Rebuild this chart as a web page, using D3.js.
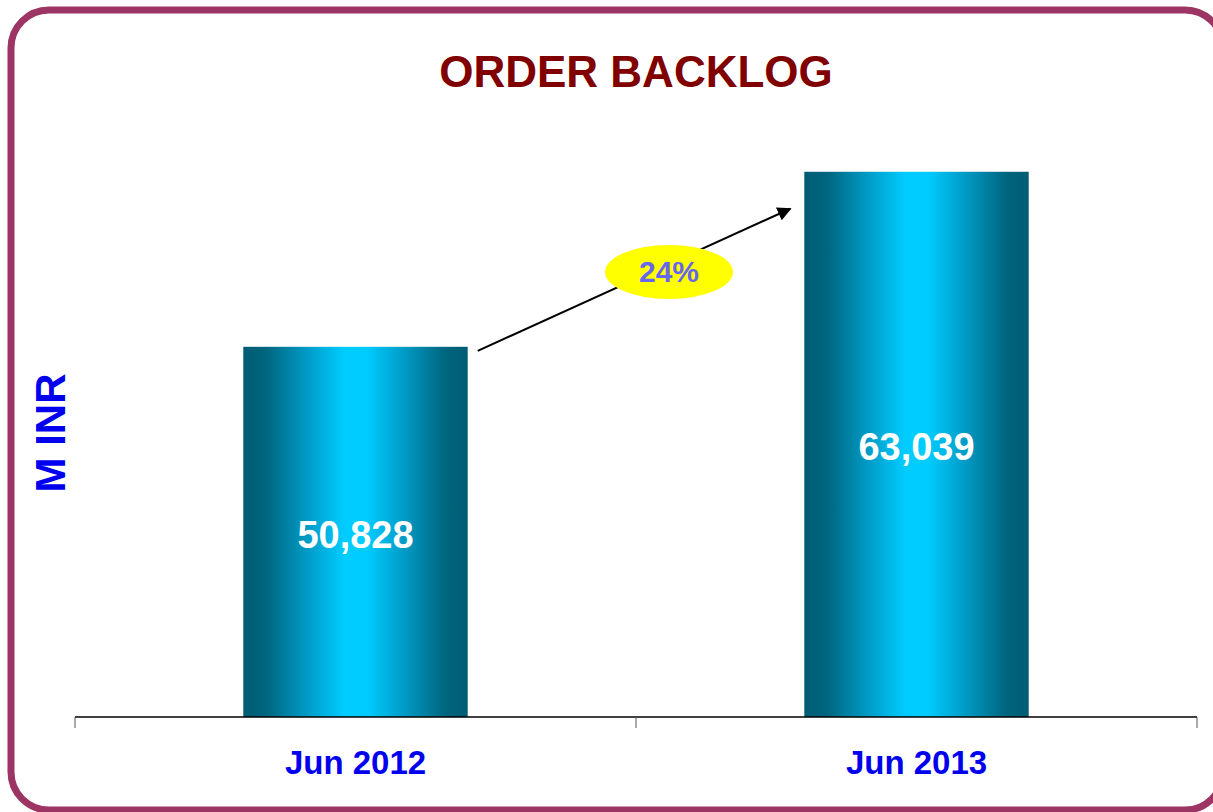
<!DOCTYPE html>
<html>
<head>
<meta charset="utf-8">
<script src="https://cdn.jsdelivr.net/npm/d3@7"></script>
<style>
  body { margin: 0; background: #ffffff; }
  svg { display: block; }
</style>
</head>
<body>
<div id="container"></div>
<script>
let w = 1213;
let h = 812;

// data
let categories = ["Jun 2012", "Jun 2013"];
let values = [50828, 63039];
let yDomain = [25000, 70000];

let viz = d3.select("#container").append("svg")
    .attr("width", w)
    .attr("height", h)
    .style("font-family", "'Liberation Sans', Arial, sans-serif");

// gradient for the bars
let defs = viz.append("defs");
let grad = defs.append("linearGradient").attr("id", "barGrad")
    .attr("x1", "0%").attr("x2", "100%").attr("y1", "0%").attr("y2", "0%");
[[0, "#005c73"], [0.1, "#00657f"], [0.3, "#00a0cc"], [0.45, "#00ccff"], [0.55, "#00ccff"], [0.7, "#00a0cc"], [0.9, "#00657f"], [1, "#005c73"]]
  .forEach(s => grad.append("stop").attr("offset", s[0]).attr("stop-color", s[1]));

defs.append("marker").attr("id", "arrowHead")
    .attr("viewBox", "0 0 10 10").attr("refX", 9).attr("refY", 5)
    .attr("markerWidth", 7).attr("markerHeight", 7).attr("orient", "auto")
    .append("path").attr("d", "M0,0L10,5L0,10Z").attr("fill", "#000");

// frame
viz.append("rect")
    .attr("x", 11).attr("y", 10)
    .attr("width", 1212).attr("height", 800)
    .attr("rx", 38).attr("ry", 38)
    .attr("fill", "none")
    .attr("stroke", "#9c3464")
    .attr("stroke-width", 7);

// title
viz.append("text")
    .attr("x", 636).attr("y", 87)
    .attr("text-anchor", "middle")
    .attr("font-size", 44).attr("font-weight", "bold")
    .attr("fill", "#800000")
    .text("ORDER BACKLOG");

let x = d3.scaleBand().domain(categories).range([75, 1197])
    .paddingInner(0.6).paddingOuter(0.3);
let y = d3.scaleLinear().domain(yDomain).range([717, 72]);

// bars
viz.selectAll(".bar").data(values).enter().append("rect")
    .attr("class", "bar")
    .attr("x", (d, i) => x(categories[i]))
    .attr("y", d => y(d))
    .attr("width", x.bandwidth())
    .attr("height", d => 717 - y(d))
    .attr("fill", "url(#barGrad)");

// value labels
viz.selectAll(".val").data(values).enter().append("text")
    .attr("class", "val")
    .attr("x", (d, i) => x(categories[i]) + x.bandwidth() / 2)
    .attr("y", d => (y(d) + 717) / 2 + 16)
    .attr("text-anchor", "middle")
    .attr("font-size", 38).attr("font-weight", "bold")
    .attr("fill", "#ffffff")
    .text(d => d3.format(",")(d));

// x axis: line + ticks at band edges
viz.append("line")
    .attr("x1", 75).attr("x2", 1197).attr("y1", 717).attr("y2", 717)
    .attr("stroke", "#000").attr("stroke-width", 1.5);
let edges = [75, (x(categories[0]) + x(categories[1]) + x.bandwidth()) / 2, 1197];
viz.selectAll(".tk").data(edges).enter().append("line")
    .attr("x1", d => d).attr("x2", d => d)
    .attr("y1", 717).attr("y2", 728)
    .attr("stroke", "#555").attr("stroke-width", 1);

viz.selectAll(".cat").data(categories).enter().append("text")
    .attr("x", d => x(d) + x.bandwidth() / 2)
    .attr("y", 774)
    .attr("text-anchor", "middle")
    .attr("font-size", 33).attr("font-weight", "bold")
    .attr("fill", "#0000ee")
    .text(d => d);

// y label
viz.append("text")
    .attr("transform", "translate(65,433) rotate(-90)")
    .attr("text-anchor", "middle")
    .attr("font-size", 42).attr("font-weight", "bold")
    .attr("fill", "#0000ee")
    .text("M INR");

// growth arrow
let x1 = x(categories[0]) + x.bandwidth() + 10;
let y1 = y(values[0]) + 4;
let x2 = x(categories[1]) - 14;
let y2 = y(values[1]) + 37;
viz.append("line")
    .attr("x1", x1).attr("y1", y1).attr("x2", x2).attr("y2", y2)
    .attr("stroke", "#000").attr("stroke-width", 2)
    .attr("marker-end", "url(#arrowHead)");

viz.append("ellipse")
    .attr("cx", 669).attr("cy", 272).attr("rx", 64).attr("ry", 27)
    .attr("fill", "#ffff00");
let growth = values[1] / values[0] - 1;
viz.append("text")
    .attr("x", 669).attr("y", 282)
    .attr("text-anchor", "middle")
    .attr("font-size", 30).attr("font-weight", "bold")
    .attr("fill", "#6666ee")
    .text(Math.round(growth * 100) + "%");
</script>
</body>
</html>
